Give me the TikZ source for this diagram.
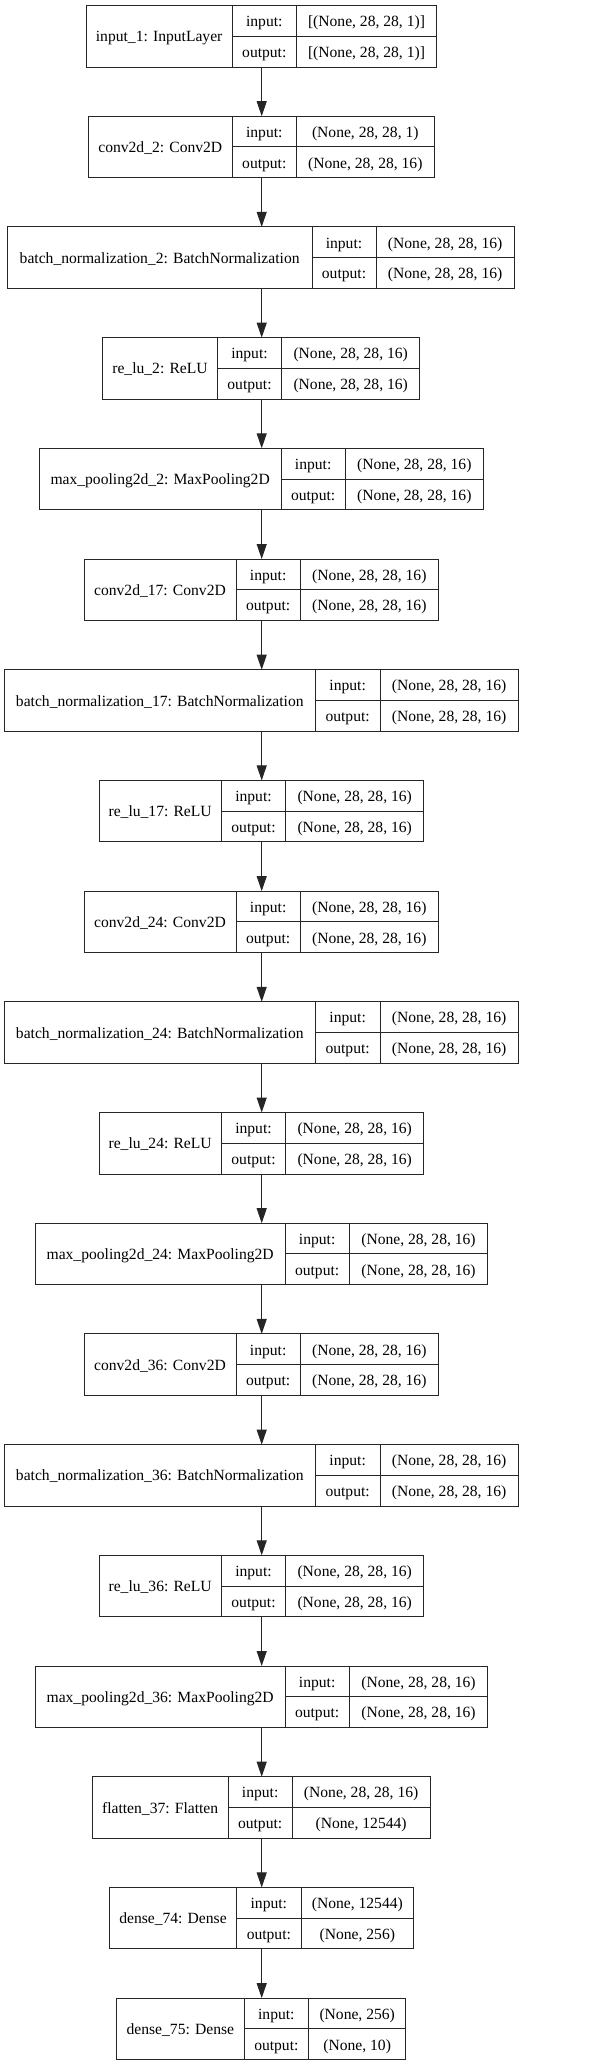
\documentclass[tikz,border=0pt]{standalone}
\usepackage{fontspec}
\setmainfont{Liberation Serif}
\usetikzlibrary{arrows.meta}
\tikzset{
  boxsty/.style={draw=black!85, line width=1pt, inner sep=0pt, outer sep=0pt, anchor=north west},
  cellline/.style={draw=black!85, line width=1pt},
  txt/.style={font=\fontsize{15.6}{18}\selectfont, inner sep=0pt, anchor=base},
  flow/.style={draw=black!85, line width=1pt, -{Triangle[length=15pt,width=10pt]}},
}
\newcommand\layerbox[9]{%
  \pgfmathsetmacro\T{-(5.5+(#2-1)*110.7)}%
  \pgfmathsetmacro\B{\T-61.5}%
  \pgfmathsetmacro\M{\T-30.75}%
  \pgfmathsetmacro\RA{\T-15.375-5.8}%
  \pgfmathsetmacro\RB{\M-15.375-5.8}%
  \pgfmathsetmacro\MB{\M-5.6}%
  \node[boxsty, minimum width={(#6-#3)*1pt}, minimum height=61.5pt] (#1) at (#3,\T) {};
  \draw[cellline] (#4,\T) -- (#4,\B) (#5,\T) -- (#5,\B) (#4,\M) -- (#6,\M);
  \node[txt] (#1-l) at ({(#3+#4)/2},\MB) {#7};
  \node[txt] (#1-i) at ({(#4+#5)/2},\RA) {input:};
  \node[txt] (#1-o) at ({(#4+#5)/2},\RB) {output:};
  \node[txt] (#1-iv) at ({(#5+#6)/2},\RA) {#8};
  \node[txt] (#1-ov) at ({(#5+#6)/2},\RB) {#9};
}
\begin{document}
\begin{tikzpicture}[x=1pt,y=1pt]
\useasboundingbox (0,0) rectangle (596,-2065);
\fill[white] (0,0) rectangle (596,-2065);
\coordinate (ax) at (261.7,0);
\def\sh{(None, 28, 28, 16)}
\layerbox{n1}{1}{86}{232.3}{296.3}{436.7}{input\_1: InputLayer}{[(None, 28, 28, 1)]}{[(None, 28, 28, 1)]}
\layerbox{n2}{2}{88.3}{232.3}{296.3}{434.3}{conv2d\_2: Conv2D}{(None, 28, 28, 1)}{\sh}
\layerbox{n3}{3}{7.3}{312}{376}{514.3}{batch\_normalization\_2: BatchNormalization}{\sh}{\sh}
\layerbox{n4}{4}{102.7}{217.3}{281.7}{419.7}{re\_lu\_2: ReLU}{\sh}{\sh}
\layerbox{n5}{5}{39.3}{281}{345.3}{483.3}{max\_pooling2d\_2: MaxPooling2D}{\sh}{\sh}
\layerbox{n6}{6}{84}{236}{300.3}{438.3}{conv2d\_17: Conv2D}{\sh}{\sh}
\layerbox{n7}{7}{4.3}{315.3}{380}{518.3}{batch\_normalization\_17: BatchNormalization}{\sh}{\sh}
\layerbox{n8}{8}{99}{221.3}{285.7}{423.7}{re\_lu\_17: ReLU}{\sh}{\sh}
\layerbox{n9}{9}{84}{236}{300.3}{438.3}{conv2d\_24: Conv2D}{\sh}{\sh}
\layerbox{n10}{10}{4.3}{315.3}{380}{518.3}{batch\_normalization\_24: BatchNormalization}{\sh}{\sh}
\layerbox{n11}{11}{99}{221.3}{285.7}{423.7}{re\_lu\_24: ReLU}{\sh}{\sh}
\layerbox{n12}{12}{35.3}{285}{349.3}{487.7}{max\_pooling2d\_24: MaxPooling2D}{\sh}{\sh}
\layerbox{n13}{13}{84}{236}{300.3}{438.3}{conv2d\_36: Conv2D}{\sh}{\sh}
\layerbox{n14}{14}{4.3}{315.3}{380}{518.3}{batch\_normalization\_36: BatchNormalization}{\sh}{\sh}
\layerbox{n15}{15}{99}{221.3}{285.7}{423.7}{re\_lu\_36: ReLU}{\sh}{\sh}
\layerbox{n16}{16}{35.3}{285}{349.3}{487.7}{max\_pooling2d\_36: MaxPooling2D}{\sh}{\sh}
\layerbox{n17}{17}{92.3}{228}{292.3}{430}{flatten\_37: Flatten}{\sh}{(None, 12544)}
\layerbox{n18}{18}{109.3}{236.7}{301}{413.7}{dense\_74: Dense}{(None, 12544)}{(None, 256)}
\layerbox{n19}{19}{116.7}{244}{308.7}{405.7}{dense\_75: Dense}{(None, 256)}{(None, 10)}
\foreach \a/\b in {1/2,2/3,3/4,4/5,5/6,6/7,7/8,8/9,9/10,10/11,11/12,12/13,13/14,14/15,15/16,16/17,17/18,18/19}
  \draw[flow] (n\a.south -| ax) -- (n\b.north -| ax);
\end{tikzpicture}
\end{document}
